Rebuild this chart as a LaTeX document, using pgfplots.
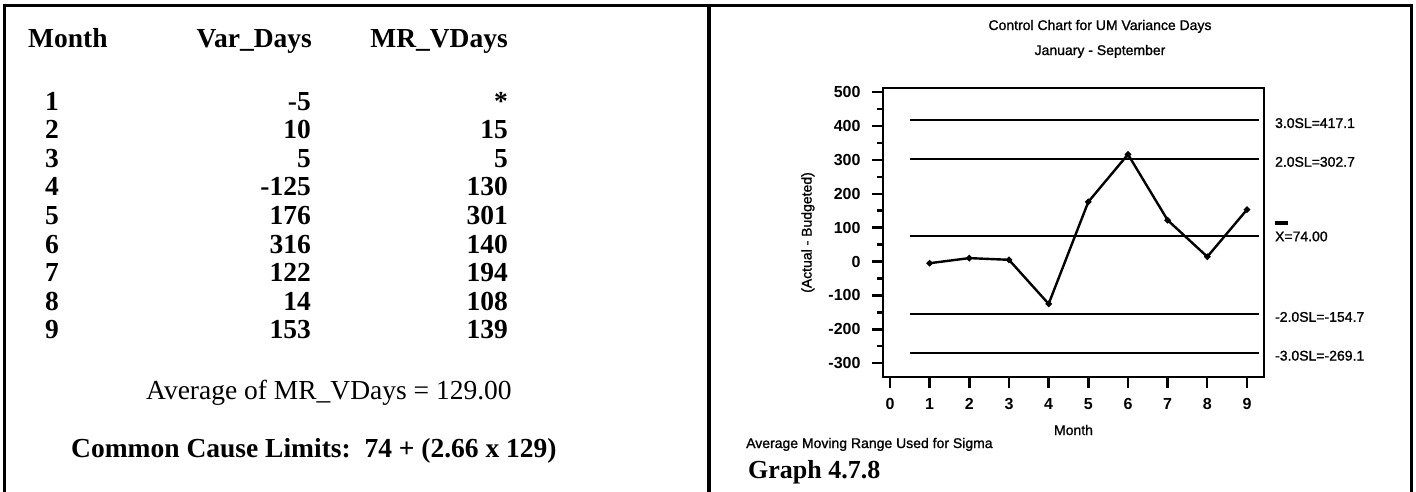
\documentclass[border=0pt]{standalone}
\usepackage{fontspec}
\setmainfont{Liberation Serif}
\newfontfamily\arial[FakeBold=1.2]{Liberation Sans}
\newfontfamily\arialb{Liberation Sans Bold}
\usepackage{pgfplots}
\pgfplotsset{compat=1.18}
\usepackage{pgfplotstable}

\pgfplotstableread{
month var
1 -5
2 10
3 5
4 -125
5 176
6 316
7 122
8 14
9 153
}\vardays

\newcommand{\tfont}{\fontsize{27.5bp}{30bp}\selectfont}
\newcommand{\cfont}{\arial\fontsize{14bp}{16bp}\selectfont}

\begin{document}
\begin{tikzpicture}
\useasboundingbox (0,0) rectangle (1416bp,-492bp);
\fill[white] (0,0) rectangle (1416bp,-492bp);
% frame
\draw[line width=3bp] (4.7bp,-492bp) -- (4.7bp,-5.5bp) -- (1411.5bp,-5.5bp) -- (1411.5bp,-492bp);
\draw[line width=4bp] (709bp,-5.5bp) -- (709bp,-492bp);

% left table
\begin{scope}[every node/.style={inner sep=0pt, font=\tfont\bfseries}]
\node[anchor=base west] at (28bp,-47bp) {Month};
\node[anchor=base east] at (312bp,-47bp) {Var\_Days};
\node[anchor=base east] at (508bp,-47bp) {MR\_VDays};
\foreach \m/\v/\r [count=\i from 0] in {1/-5/*,2/10/15,3/5/5,4/-125/130,5/176/301,6/316/140,7/122/194,8/14/108,9/153/139}{
  \pgfmathsetmacro{\yy}{-(110+28.6*\i)}
  \node[anchor=base west] at (45bp,\yy bp) {\m};
  \node[anchor=base east] at (311bp,\yy bp) {\v};
  \node[anchor=base east] at (508bp,\yy bp) {\r};
}
\node[anchor=base west, font=\tfont] at (146bp,-399bp) {Average of MR\_VDays = 129.00};
\node[anchor=base west] at (71bp,-457bp) {Common Cause Limits:\ \ 74 + (2.66 x 129)};
\end{scope}

% chart texts
\node[anchor=base, inner sep=0pt, font=\cfont] at (1100bp,-30bp) {Control Chart for UM Variance Days};
\node[anchor=base, inner sep=0pt, font=\cfont] at (1100bp,-55bp) {January - September};
\node[anchor=base west, inner sep=0pt, font=\cfont] at (746bp,-448bp) {Average Moving Range Used for Sigma};
\node[anchor=base west, inner sep=0pt, font=\fontsize{26bp}{28bp}\selectfont\bfseries] at (748bp,-478bp) {Graph 4.7.8};

\begin{axis}[
  at={(883bp,-377bp)}, anchor=south west,
  scale only axis, width=381bp, height=289bp,
  xmin=-0.176, xmax=9.43, ymin=-340.7, ymax=511.8,
  clip=false,
  xtick={0,1,2,3,4,5,6,7,8,9},
  xticklabels={0,1,2,3,4,5,6,7,8,9},
  ytick={-300,-200,-100,0,100,200,300,400,500},
  yticklabels={-300,-200,-100,0,100,200,300,400,500},
  minor y tick num=1,
  tick align=outside,
  xtick pos=bottom, ytick pos=left,
  major tick length=11bp, minor tick length=6bp,
  axis line style={line width=2.2bp},
  every tick/.style={line width=2.4bp, black},
  ticklabel style={font=\arialb\fontsize{16bp}{17bp}\selectfont},
  xticklabel style={yshift=-7bp},
  yticklabel style={xshift=-8bp},
  xlabel={Month},
  ylabel={(Actual - Budgeted)},
  xlabel style={at={(rel axis cs:0.5,-0.2007)}, anchor=base, inner sep=0pt, font=\cfont},
  ylabel style={at={(rel axis cs:-0.197,0.5)}, anchor=center, inner sep=0pt, font=\cfont},
]
\addplot[black, line width=2bp] coordinates {(0.5,417.1) (9.3,417.1)};
\addplot[black, line width=2bp] coordinates {(0.5,302.7) (9.3,302.7)};
\addplot[black, line width=2bp] coordinates {(0.5,74) (9.3,74)};
\addplot[black, line width=2bp] coordinates {(0.5,-154.7) (9.3,-154.7)};
\addplot[black, line width=2bp] coordinates {(0.5,-269.1) (9.3,-269.1)};
\addplot[black, line width=2.4bp, mark=*, mark size=1.8bp] table[x=month, y=var] {\vardays};
\begin{scope}[every node/.style={anchor=west, inner sep=0pt, font=\cfont}]
\node[yshift=-3bp] at (axis cs:9.705,417.1) {3.0SL=417.1};
\node[yshift=-3bp] at (axis cs:9.705,302.7) {2.0SL=302.7};
\node at (axis cs:9.705,74) {X=74.00};
\node[anchor=south west, yshift=11bp] at (axis cs:9.705,74) {\rule{13bp}{4bp}};
\node[yshift=-3bp] at (axis cs:9.705,-154.7) {-2.0SL=-154.7};
\node[yshift=-3bp] at (axis cs:9.705,-269.1) {-3.0SL=-269.1};
\end{scope}
\end{axis}
\end{tikzpicture}
\end{document}
